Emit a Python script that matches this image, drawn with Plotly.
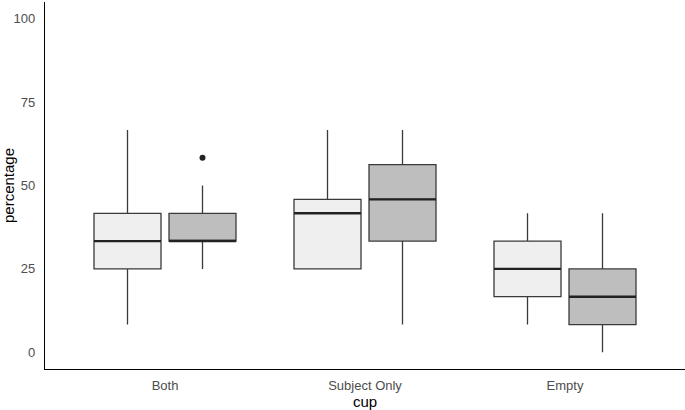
import plotly.graph_objects as go

categories = ["Both", "Subject Only", "Empty"]
groups = ["A", "B"]

# precomputed box stats per group (one value per category)
lower_A = [8.33, 25.0, 8.33]
q1_A = [25.0, 25.0, 16.67]
med_A = [33.33, 41.67, 25.0]
q3_A = [41.67, 45.83, 33.33]
upper_A = [66.67, 66.67, 41.67]

lower_B = [25.0, 8.33, 0.0]
q1_B = [33.33, 33.33, 8.33]
med_B = [33.33, 45.83, 16.67]
q3_B = [41.67, 56.25, 25.0]
upper_B = [50.0, 66.67, 41.67]

outlier_cat = [0]
outlier_val = [58.33]

fills = ["#EFEFEF", "#BEBEBE"]
dodge = 0.1875
box_w = 0.335
idx = list(range(len(categories)))

fig = go.Figure()
stats = [(lower_A, q1_A, med_A, q3_A, upper_A), (lower_B, q1_B, med_B, q3_B, upper_B)]
for g, (lo, q1, md, q3, up) in enumerate(stats):
    off = -dodge if g == 0 else dodge
    fig.add_trace(go.Box(
        x=[i + off for i in idx],
        lowerfence=lo, q1=q1, median=md, q3=q3, upperfence=up,
        width=box_w,
        fillcolor=fills[g],
        line=dict(color="#3a3a3a", width=1.3),
        whiskerwidth=0,
        boxpoints=False,
        name=groups[g],
        showlegend=False,
    ))
    # thicker median line (ggplot style)
    mx, my = [], []
    for i, m in zip(idx, md):
        mx += [i + off - box_w / 2, i + off + box_w / 2, None]
        my += [m, m, None]
    fig.add_trace(go.Scatter(
        x=mx, y=my, mode="lines",
        line=dict(color="#222222", width=2.4),
        showlegend=False, hoverinfo="skip",
    ))

fig.add_trace(go.Scatter(
    x=[c + dodge for c in outlier_cat], y=outlier_val,
    mode="markers",
    marker=dict(color="#222222", size=6),
    showlegend=False,
))

fig.update_layout(
    width=685, height=410,
    margin=dict(l=45, r=0, t=2, b=41),
    plot_bgcolor="white", paper_bgcolor="white",
    font=dict(family="Liberation Sans, Arial, sans-serif"),
    showlegend=False,
)
fig.update_xaxes(
    range=[-0.6, 2.6], automargin=False,
    tickvals=idx, ticktext=categories,
    showgrid=False, zeroline=False,
    showline=True, linecolor="black", linewidth=1.3,
    ticks="", tickfont=dict(size=13, color="#4D4D4D"),
    ticklabelstandoff=4,
    title=dict(text="cup", font=dict(size=15, color="black"), standoff=3),
)
fig.update_yaxes(
    range=[-5, 105], automargin=False,
    tickvals=[0, 25, 50, 75, 100],
    showgrid=False, zeroline=False,
    showline=True, linecolor="black", linewidth=1.3,
    ticks="", tickfont=dict(size=13, color="#4D4D4D"),
    ticklabelstandoff=6,
    title=dict(text="percentage", font=dict(size=15, color="black"), standoff=5),
)

fig.write_html("out.html")
